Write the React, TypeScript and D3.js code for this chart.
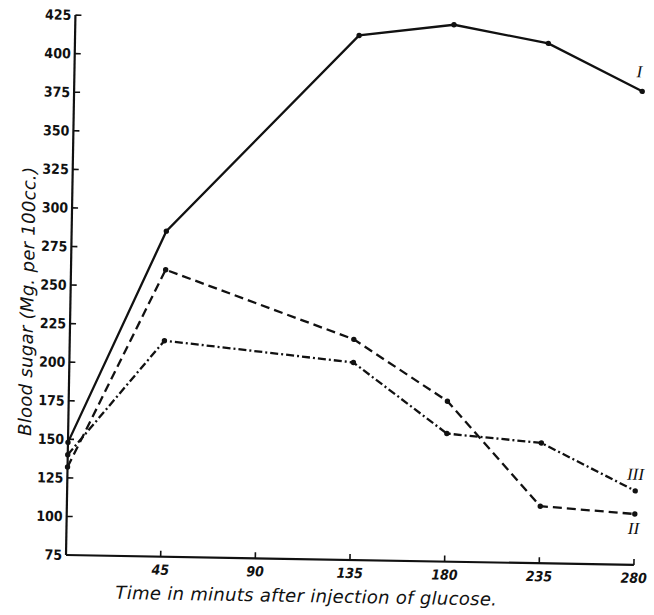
import React from "react";
import * as d3 from "d3";

// Data (time in minutes, blood sugar mg per 100cc)
const categories = [0, 45, 90, 135, 180, 235, 280];
const xTickLabels = [45, 90, 135, 180, 235, 280];
const times = [0, 45, 135, 180, 235, 280];
const seriesI = [148, 286, 415, 423, 412, 382];
const seriesII = [132, 261, 218, 179, 112, 108];
const seriesIII = [140, 215, 203, 158, 153, 123];
const yTicks = [75, 100, 125, 150, 175, 200, 225, 250, 275, 300, 325, 350, 375, 400, 425];

const W = 654;
const H = 615;

export default function App() {
  const x = d3.scalePoint<number>().domain(categories).range([66, 634]);
  const y = d3.scaleLinear().domain([75, 425]).range([555, 15]);

  const line = d3
    .line<[number, number]>()
    .x((d) => x(d[0]) as number)
    .y((d) => y(d[1]));

  const series = [
    { name: "I", values: seriesI, dash: "none", lx: -3, ly: -14 },
    { name: "II", values: seriesII, dash: "9,5", lx: -1, ly: 20 },
    { name: "III", values: seriesIII, dash: "8,3,2,3", lx: 0, ly: -11 },
  ];

  const tickFont = "'DejaVu Sans Condensed', 'DejaVu Sans', sans-serif";
  const ink = "#111";

  return (
    <svg
      width={W}
      height={H}
      viewBox={`0 0 ${W} ${H}`}
      style={{ position: "absolute", left: 0, top: 0, background: "#fff" }}
    >
      <g transform={`rotate(1, 66, 555)`}>
        {/* axes */}
        <line x1={66} y1={y(425)} x2={66} y2={y(75)} stroke={ink} strokeWidth={2.2} />
        <line x1={66} y1={y(75)} x2={634} y2={y(75)} stroke={ink} strokeWidth={2.2} />
        {/* y ticks */}
        {yTicks.map((t) => (
          <g key={t}>
            {t > 75 && (
              <line x1={66} x2={72} y1={y(t)} y2={y(t)} stroke={ink} strokeWidth={1.6} />
            )}
            <text
              x={62}
              y={y(t)}
              dy="0.35em"
              textAnchor="end"
              fontFamily={tickFont}
              fontWeight="bold"
              fontSize={14}
              fill={ink}
            >
              {t}
            </text>
          </g>
        ))}
        {/* x ticks */}
        {xTickLabels.map((t) => (
          <g key={t}>
            <line
              x1={x(t) as number}
              x2={x(t) as number}
              y1={y(75)}
              y2={y(75) - 6}
              stroke={ink}
              strokeWidth={1.6}
            />
            <text
              x={x(t) as number}
              y={y(75) + 18}
              textAnchor="middle"
              fontFamily={tickFont}
              fontWeight="bold"
              fontStyle="italic"
              fontSize={14}
              fill={ink}
            >
              {t}
            </text>
          </g>
        ))}
        {/* axis titles */}
        <text
          x={307}
          y={598}
          textAnchor="middle"
          fontFamily="'DejaVu Sans', sans-serif"
          fontStyle="italic"
          fontSize={18}
          letterSpacing={0.3}
          fill={ink}
        >
          Time in minuts after injection of glucose.
        </text>
        <text
          transform="translate(29, 302) rotate(-90)"
          textAnchor="middle"
          fontFamily="'DejaVu Sans', sans-serif"
          fontStyle="italic"
          fontSize={18}
          letterSpacing={0.3}
          fill={ink}
        >
          Blood sugar (Mg. per 100cc.)
        </text>
        {/* series */}
        {series.map((s) => {
          const pts: [number, number][] = times.map((t, i) => [t, s.values[i]]);
          const last = pts[pts.length - 1];
          return (
            <g key={s.name}>
              <path
                d={line(pts) as string}
                fill="none"
                stroke={ink}
                strokeWidth={2.3}
                strokeDasharray={s.dash}
              />
              {pts.map((p, i) => (
                <circle key={i} cx={x(p[0]) as number} cy={y(p[1])} r={2.7} fill={ink} />
              ))}
              <text
                x={(x(last[0]) as number) + s.lx}
                y={y(last[1]) + s.ly}
                textAnchor="middle"
                fontFamily="'Liberation Serif', serif"
                fontStyle="italic"
                fontSize={17}
                fill={ink}
              >
                {s.name}
              </text>
            </g>
          );
        })}
      </g>
    </svg>
  );
}
